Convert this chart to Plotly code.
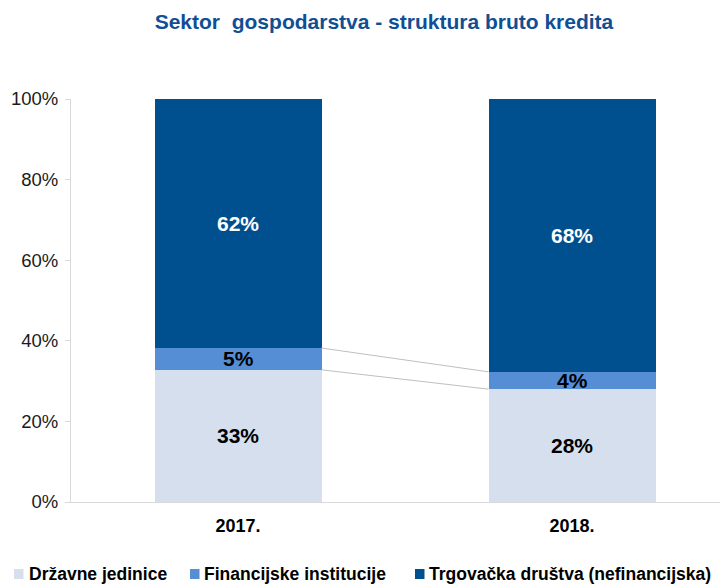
import plotly.graph_objects as go

categories = ["2017.", "2018."]
series_names = ["Državne jedinice", "Financijske institucije", "Trgovačka društva (nefinancijska)"]
drzavne = [32.8, 28.0]
financijske = [5.4, 4.3]
trgovacka = [61.8, 67.7]
y_ticks = [0, 20, 40, 60, 80, 100]
y_tick_labels = ["0%", "20%", "40%", "60%", "80%", "100%"]

colors = ["#D6DFEE", "#558ED5", "#00508F"]
label_colors = ["#000000", "#000000", "#FFFFFF"]
series = [drzavne, financijske, trgovacka]

FONT = "Liberation Sans, Arial, sans-serif"
W, H = 720, 577
ML, MR, MT, MB = 63, 1, 91, 83
PW, PH = W - ML - MR, H - MT - MB


def px_x(px):
    return (px - ML) / PW


def px_y(py):
    return (MT + PH - py) / PH


fig = go.Figure()
xpos = [0, 1]
for name, vals, col in zip(series_names, series, colors):
    fig.add_trace(go.Bar(x=xpos, y=vals, name=name, marker=dict(color=col, line=dict(width=0)),
                         width=0.5, hoverinfo="skip", showlegend=False))

cum1 = drzavne
cum2 = [a + b for a, b in zip(drzavne, financijske)]
for cum in (cum1, cum2):
    fig.add_trace(go.Scatter(x=[0.25, 0.75], y=cum, mode="lines",
                             line=dict(color="#BFBFBF", width=1), showlegend=False, hoverinfo="skip"))

annotations = []
for i in range(2):
    base = 0
    for vals, lc in zip(series, label_colors):
        v = vals[i]
        annotations.append(dict(x=xpos[i], y=base + v / 2, text=f"<b>{round(v)}%</b>", showarrow=False,
                                font=dict(size=21, color=lc, family=FONT), xref="x", yref="y"))
        base += v

# manual legend (figure pixel positions)
shapes = []
legend_items = [(6, 20), (182, 195), (407, 420)]
for (mx, tx), name, col in zip(legend_items, series_names, colors):
    shapes.append(dict(type="rect", xref="paper", yref="paper",
                       x0=px_x(mx), x1=px_x(mx + 9.5), y0=px_y(561), y1=px_y(571),
                       fillcolor=col, line=dict(width=0), layer="above"))
    annotations.append(dict(x=px_x(tx), y=px_y(566), xref="paper", yref="paper", xanchor="left",
                            yanchor="middle", showarrow=False, text=f"<b>{name}</b>",
                            font=dict(size=17.5, color="#000000", family=FONT), borderpad=0))

fig.update_layout(
    barmode="stack",
    width=W, height=H,
    margin=dict(l=ML, r=MR, t=MT, b=MB, autoexpand=False),
    plot_bgcolor="white", paper_bgcolor="white",
    font=dict(family=FONT, size=18, color="#222222"),
    title=dict(text="<b>Sektor  gospodarstva - struktura bruto kredita</b>", x=376 / W, xanchor="center",
               y=1 - 14 / H, yanchor="middle", font=dict(size=21, color="#0F4F94", family=FONT)),
    xaxis=dict(range=[-0.5, 1.464], tickvals=xpos, ticktext=[f"<b>{c}</b>" for c in categories],
               showline=True, linecolor="#D9D9D9", linewidth=1, ticks="", showgrid=False, zeroline=False,
               ticklabelstandoff=7, tickfont=dict(size=18, color="#000000")),
    yaxis=dict(range=[0, 100], tickvals=y_ticks, ticktext=y_tick_labels, showgrid=False, zeroline=False,
               showline=True, linecolor="#D9D9D9", linewidth=1, ticks="outside", ticklen=5,
               tickcolor="#D9D9D9", ticklabelstandoff=3, tickfont=dict(size=18.5, color="#1A1A1A")),
    annotations=annotations,
    shapes=shapes,
    showlegend=False,
)
fig.write_html("out.html")
